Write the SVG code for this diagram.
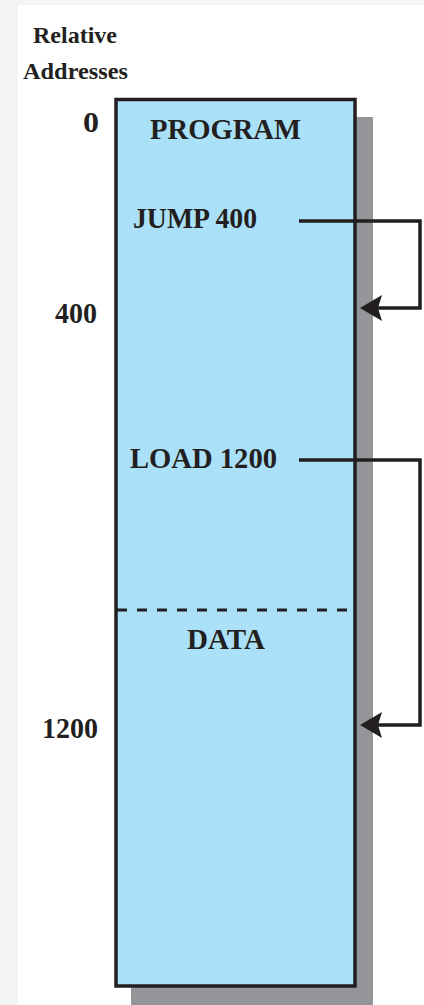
<svg xmlns="http://www.w3.org/2000/svg" width="424" height="1005" viewBox="0 0 424 1005">
  <defs>
    <style>
      .lbl { font-family: "Liberation Serif", "DejaVu Serif", serif; font-weight: bold; fill: #231f20; }
      .big { font-size: 30px; }
      .small { font-size: 24px; }
      .conn { fill: none; stroke: #231f20; stroke-width: 3.5; stroke-linejoin: miter; stroke-linecap: butt; }
    </style>
    <marker id="arrow" markerUnits="userSpaceOnUse" markerWidth="22" markerHeight="26" viewBox="0 -13 22 26" refX="6" refY="0" orient="auto" overflow="visible">
      <path d="M22,0 L0,-13 L4,0 L0,13 Z" fill="#231f20"/>
    </marker>
  </defs>

  <rect x="0" y="0" width="424" height="1005" fill="#f4f4f4"/>
  <rect x="18" y="5" width="406" height="1000" fill="#ffffff"/>

  <g id="header">
    <text class="lbl small" x="33" y="43" textLength="84" lengthAdjust="spacingAndGlyphs">Relative</text>
    <text class="lbl small" x="23" y="79" textLength="105" lengthAdjust="spacingAndGlyphs">Addresses</text>
  </g>

  <g id="addresses">
    <text class="lbl big" x="83" y="132" textLength="16" lengthAdjust="spacingAndGlyphs">0</text>
    <text class="lbl big" x="55" y="323" textLength="42" lengthAdjust="spacingAndGlyphs">400</text>
    <text class="lbl big" x="42" y="738" textLength="56" lengthAdjust="spacingAndGlyphs">1200</text>
  </g>

  <g id="memory">
    <rect x="131" y="117" width="242" height="888" fill="#939598"/>
    <rect x="116" y="99.5" width="239" height="886.5" fill="#abe1f8" stroke="#231f20" stroke-width="3.5"/>
    <line x1="117" y1="610" x2="354" y2="610" stroke="#231f20" stroke-width="3" stroke-dasharray="10 10"/>
  </g>

  <g id="program">
    <text class="lbl big" x="150" y="139" textLength="151" lengthAdjust="spacingAndGlyphs">PROGRAM</text>
  </g>
  <g id="jump">
    <text class="lbl big" x="133" y="228" textLength="124" lengthAdjust="spacingAndGlyphs">JUMP 400</text>
  </g>
  <g id="load">
    <text class="lbl big" x="130" y="468" textLength="147" lengthAdjust="spacingAndGlyphs">LOAD 1200</text>
  </g>
  <g id="data">
    <text class="lbl big" x="187" y="649" textLength="78" lengthAdjust="spacingAndGlyphs">DATA</text>
  </g>

  <g id="connectors">
    <path class="conn" d="M299,221 H420 V308 H376" marker-end="url(#arrow)"/>
    <path class="conn" d="M299,460 H420 V725 H376" marker-end="url(#arrow)"/>
  </g>
</svg>
